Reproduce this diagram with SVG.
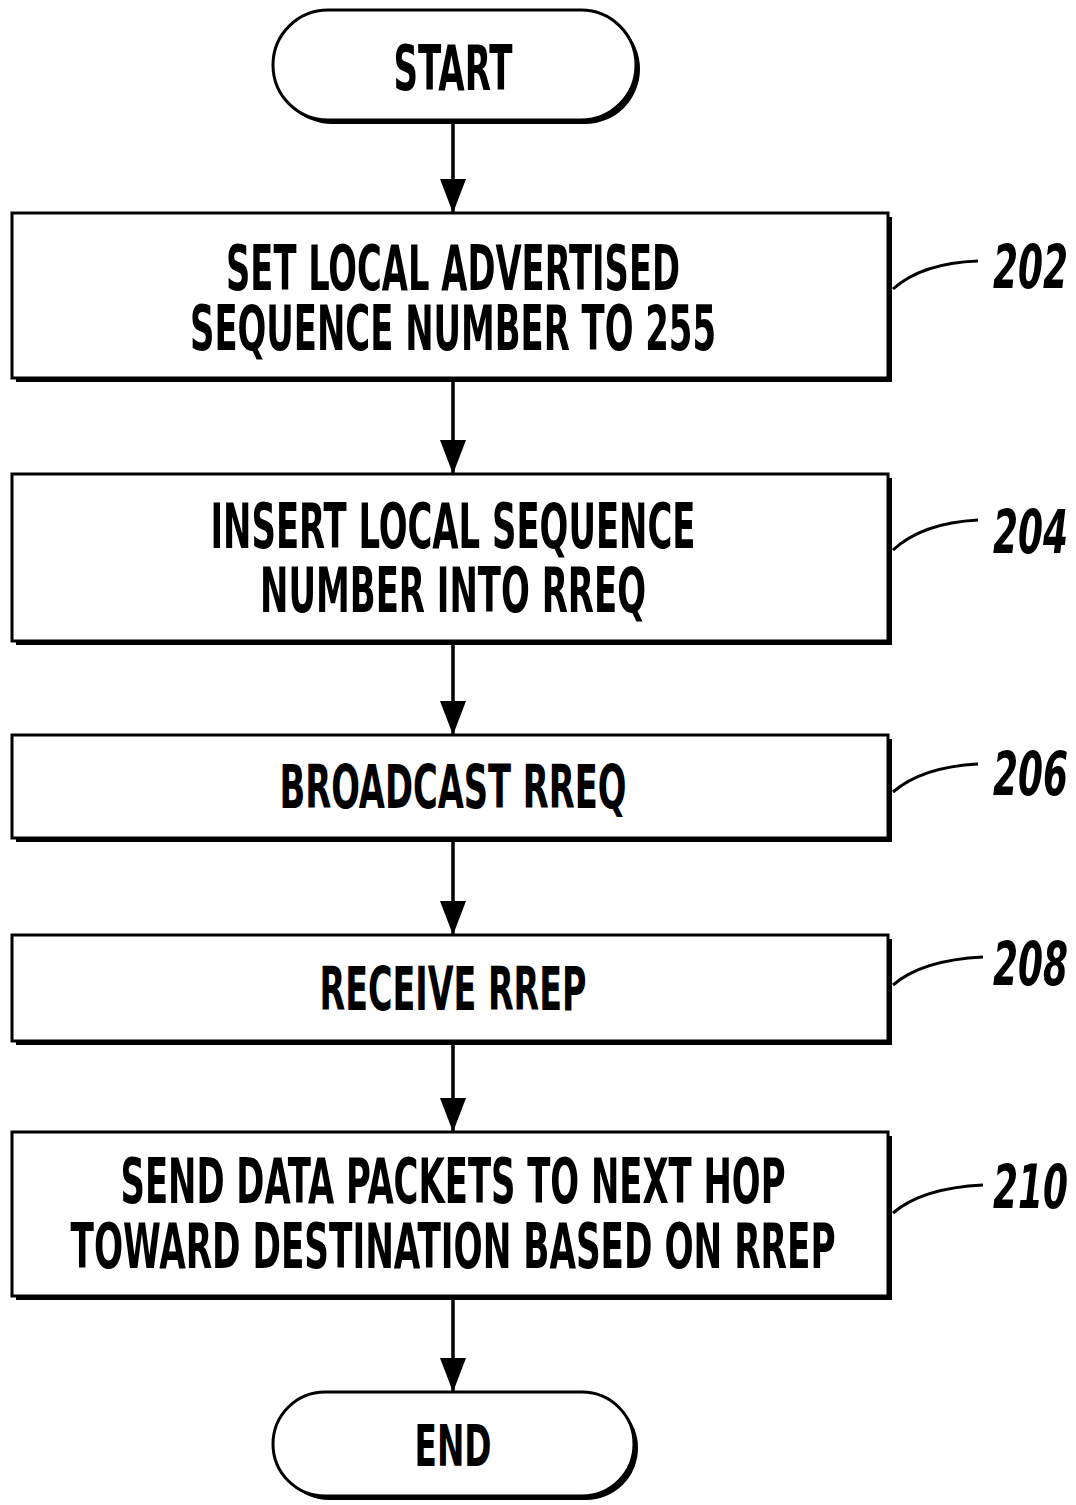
<svg xmlns="http://www.w3.org/2000/svg" width="1076" height="1505" viewBox="0 0 1076 1505">
  <style>
    .shadow { fill: #000; }
    .face { fill: #fff; stroke: #000; stroke-width: 3; }
    .label { font-family: "Liberation Sans Narrow", "DejaVu Sans Condensed", "Liberation Sans", sans-serif; font-weight: bold; font-size: 36px; fill: #000; text-anchor: middle; }
    .ref { font-family: "Liberation Sans Narrow", "DejaVu Sans Condensed", "Liberation Sans", sans-serif; font-weight: bold; font-style: italic; font-size: 36px; fill: #000; }
    .flow { stroke: #000; stroke-width: 3.5; fill: none; marker-end: url(#arrow); }
    .lead { stroke: #000; stroke-width: 3; fill: none; }
  </style>
  <defs>
    <marker id="arrow" markerUnits="userSpaceOnUse" markerWidth="34" markerHeight="26" viewBox="0 0 34 26" refX="34" refY="13" orient="auto">
      <path d="M0,0 L34,13 L0,26 Z" fill="#000"/>
    </marker>
  </defs>
  <rect width="1076" height="1505" fill="#fff"/>

  <!-- terminal: START -->
  <g id="start">
    <rect class="shadow" x="277" y="14" width="363" height="110" rx="55"/>
    <rect class="face" x="273" y="10" width="363" height="110" rx="55"/>
    <text class="label" transform="translate(453 90) scale(1 1.72)" textLength="119" lengthAdjust="spacingAndGlyphs">START</text>
  </g>

  <!-- step 202 -->
  <g id="step202">
    <rect class="shadow" x="16" y="217" width="876" height="165"/>
    <rect class="face" x="12" y="213" width="876" height="165"/>
    <text class="label" transform="translate(453 290) scale(1 1.72)" textLength="454" lengthAdjust="spacingAndGlyphs">SET LOCAL ADVERTISED</text>
    <text class="label" transform="translate(453 350) scale(1 1.72)" textLength="526" lengthAdjust="spacingAndGlyphs">SEQUENCE NUMBER TO 255</text>
    <path class="lead" d="M893,289 Q922,263 978,261"/>
    <text class="ref" transform="translate(993 288) scale(1 1.68)" textLength="75" lengthAdjust="spacingAndGlyphs">202</text>
  </g>

  <!-- step 204 -->
  <g id="step204">
    <rect class="shadow" x="16" y="478" width="876" height="167"/>
    <rect class="face" x="12" y="474" width="876" height="167"/>
    <text class="label" transform="translate(453 548) scale(1 1.72)" textLength="485" lengthAdjust="spacingAndGlyphs">INSERT LOCAL SEQUENCE</text>
    <text class="label" transform="translate(453 612) scale(1 1.72)" textLength="386" lengthAdjust="spacingAndGlyphs">NUMBER INTO RREQ</text>
    <path class="lead" d="M893,550 Q922,523 978,520"/>
    <text class="ref" transform="translate(993 553) scale(1 1.68)" textLength="75" lengthAdjust="spacingAndGlyphs">204</text>
  </g>

  <!-- step 206 -->
  <g id="step206">
    <rect class="shadow" x="16" y="739" width="876" height="103"/>
    <rect class="face" x="12" y="735" width="876" height="103"/>
    <text class="label" transform="translate(453 808) scale(1 1.68)" textLength="347" lengthAdjust="spacingAndGlyphs">BROADCAST RREQ</text>
    <path class="lead" d="M893,792 Q922,767 978,764"/>
    <text class="ref" transform="translate(993 795) scale(1 1.68)" textLength="75" lengthAdjust="spacingAndGlyphs">206</text>
  </g>

  <!-- step 208 -->
  <g id="step208">
    <rect class="shadow" x="16" y="939" width="876" height="106"/>
    <rect class="face" x="12" y="935" width="876" height="106"/>
    <text class="label" transform="translate(453 1010) scale(1 1.68)" textLength="267" lengthAdjust="spacingAndGlyphs">RECEIVE RREP</text>
    <path class="lead" d="M893,985 Q922,960 983,957"/>
    <text class="ref" transform="translate(993 985) scale(1 1.68)" textLength="75" lengthAdjust="spacingAndGlyphs">208</text>
  </g>

  <!-- step 210 -->
  <g id="step210">
    <rect class="shadow" x="16" y="1136" width="876" height="164"/>
    <rect class="face" x="12" y="1132" width="876" height="164"/>
    <text class="label" transform="translate(453 1203) scale(1 1.72)" textLength="665" lengthAdjust="spacingAndGlyphs">SEND DATA PACKETS TO NEXT HOP</text>
    <text class="label" transform="translate(453 1268) scale(1 1.72)" textLength="765" lengthAdjust="spacingAndGlyphs">TOWARD DESTINATION BASED ON RREP</text>
    <path class="lead" d="M893,1213 Q922,1188 983,1185"/>
    <text class="ref" transform="translate(993 1208) scale(1 1.68)" textLength="75" lengthAdjust="spacingAndGlyphs">210</text>
  </g>

  <!-- terminal: END -->
  <g id="end">
    <rect class="shadow" x="277" y="1396" width="361" height="104" rx="52"/>
    <rect class="face" x="273" y="1392" width="361" height="104" rx="52"/>
    <text class="label" transform="translate(453 1466) scale(1 1.58)" textLength="77" lengthAdjust="spacingAndGlyphs">END</text>
  </g>

  <!-- flow arrows -->
  <g id="connectors">
    <line class="flow" x1="453" y1="124" x2="453" y2="213"/>
    <line class="flow" x1="453" y1="382" x2="453" y2="474"/>
    <line class="flow" x1="453" y1="645" x2="453" y2="735"/>
    <line class="flow" x1="453" y1="842" x2="453" y2="935"/>
    <line class="flow" x1="453" y1="1045" x2="453" y2="1132"/>
    <line class="flow" x1="453" y1="1300" x2="453" y2="1392"/>
  </g>
</svg>
